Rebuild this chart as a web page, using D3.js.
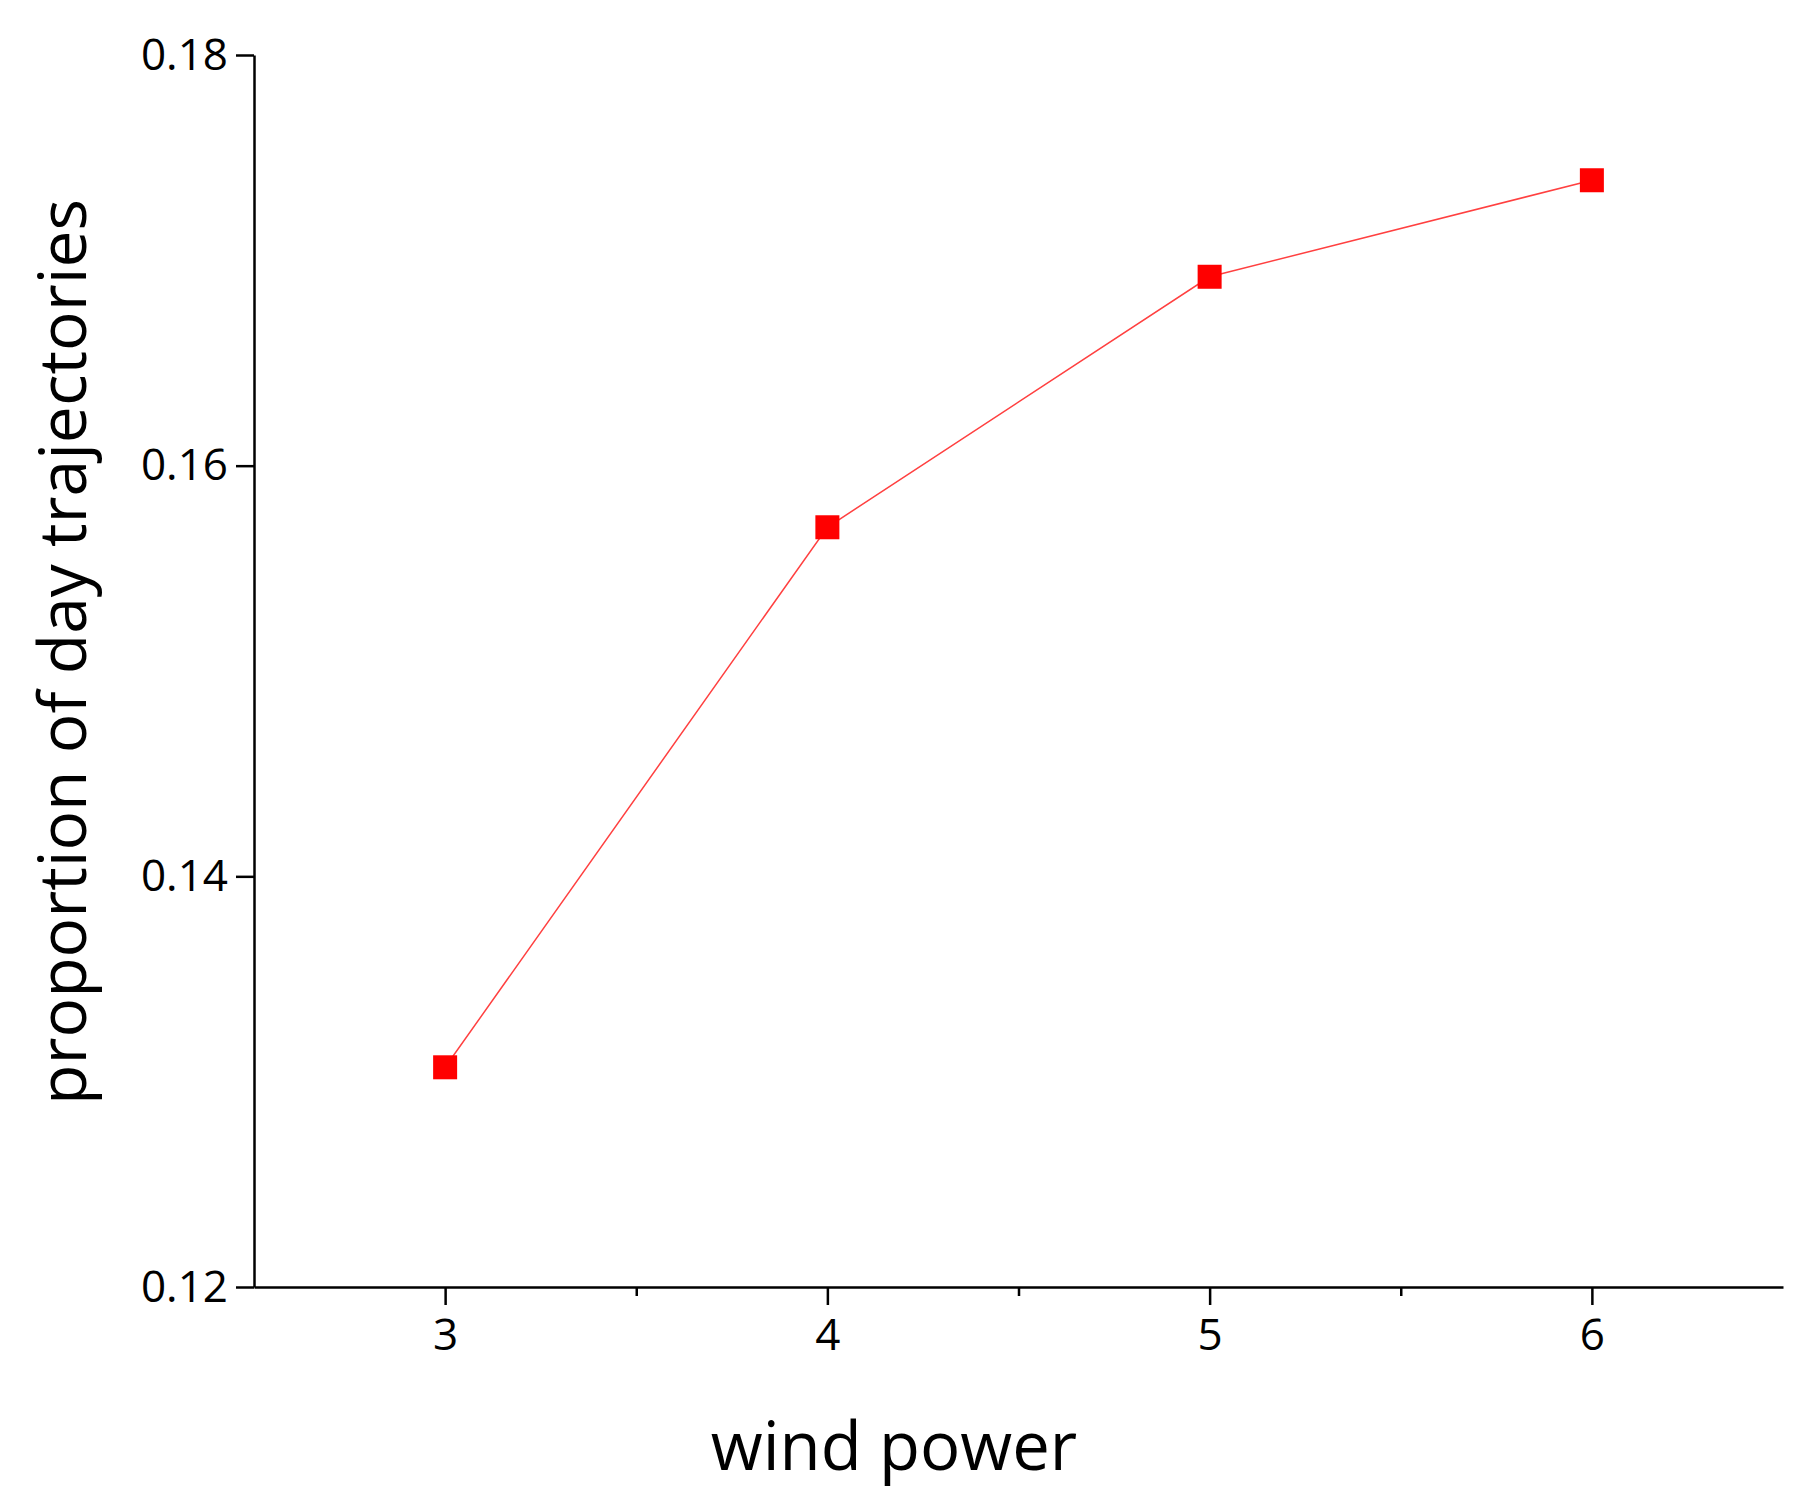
<!DOCTYPE html>
<html>
<head>
<meta charset="utf-8">
<script src="https://cdn.jsdelivr.net/npm/d3@7"></script>
<style>
  body { margin: 0; background: #fff; }
  text { font-family: "Open Sans", sans-serif; fill: #000; }
</style>
</head>
<body>
<svg id="chart" width="1815" height="1503"></svg>
<script>
var windPower = [3, 4, 5, 6];
var proportion = [0.1307, 0.157, 0.1692, 0.1739];
var xTicks = [3, 4, 5, 6];
var yTicks = [0.12, 0.14, 0.16, 0.18];

var svg = d3.select("#chart");
var margin = {top: 55, right: 32, bottom: 216, left: 254},
    width = 1815 - margin.left - margin.right,
    height = 1503 - margin.top - margin.bottom;

var x = d3.scaleLinear().domain([2.5, 6.5]).range([0, width]);
var y = d3.scaleLinear().domain([0.12, 0.18]).range([height, 0]);

var g = svg.append("g")
    .attr("transform", `translate(${margin.left},${margin.top})`);

// minor x ticks
g.append("g")
    .attr("transform", `translate(0,${height})`)
    .call(d3.axisBottom(x).tickValues([3.5, 4.5, 5.5]).tickSize(9).tickFormat(""))
    .call(a => a.select(".domain").remove())
    .selectAll("line").attr("stroke-width", 2.5);

var xa = g.append("g")
    .attr("transform", `translate(0,${height})`)
    .call(d3.axisBottom(x).tickValues(xTicks).tickSize(18).tickSizeOuter(0).tickPadding(14)
        .tickFormat(d3.format("d")));
xa.selectAll("text").style("font-size", "44px");

var ya = g.append("g")
    .call(d3.axisLeft(y).tickValues(yTicks).tickSize(18).tickSizeOuter(0).tickPadding(8)
        .tickFormat(d3.format(".2f")));
ya.selectAll("text").style("font-size", "44px");

[xa, ya].forEach(a => {
    a.selectAll("path, line").attr("stroke", "#000").attr("stroke-width", 2.5);
});

var line = d3.line().x((d, i) => x(windPower[i])).y(d => y(d));
g.append("path")
    .datum(proportion)
    .attr("fill", "none")
    .attr("stroke", "#ff4040")
    .attr("stroke-width", 1.5)
    .attr("d", line);

var s = 24;
g.selectAll(".pt")
    .data(proportion)
    .enter().append("rect")
    .attr("class", "pt")
    .attr("x", (d, i) => x(windPower[i]) - s / 2)
    .attr("y", d => y(d) - s / 2)
    .attr("width", s)
    .attr("height", s)
    .attr("fill", "#ff0000");

svg.append("text")
    .attr("x", 894)
    .attr("y", 1470)
    .attr("text-anchor", "middle")
    .style("font-size", "67px")
    .text("wind power");

svg.append("text")
    .attr("transform", "translate(86,652) rotate(-90)")
    .attr("text-anchor", "middle")
    .style("font-size", "66px")
    .text("proportion of day trajectories");
</script>
</body>
</html>
